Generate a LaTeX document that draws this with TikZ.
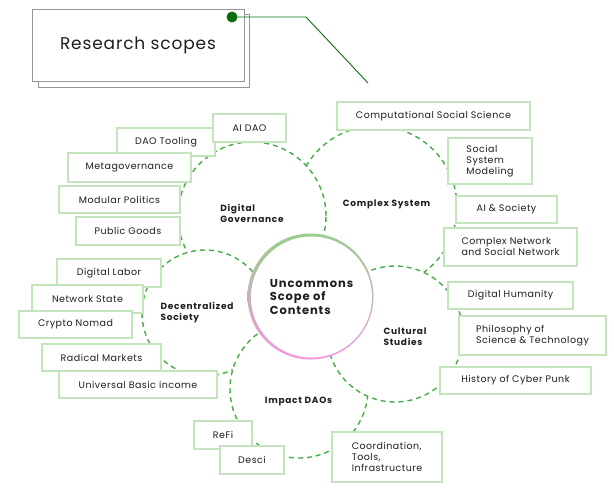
\documentclass[tikz,border=0pt]{standalone}
\usepackage{fontspec}
\setmainfont{Poppins}
\newfontfamily\tagfont[LetterSpace=5]{Poppins}
\newfontfamily\topicfont[LetterSpace=8]{Poppins}
\newfontfamily\titlefont[LetterSpace=5]{Poppins}
\definecolor{inkgray}{RGB}{30,30,30}
\definecolor{dashgreen}{RGB}{72,172,72}
\definecolor{boxgreen}{RGB}{196,228,190}
\definecolor{ringgreen}{RGB}{150,208,140}
\definecolor{ringmid}{RGB}{222,222,222}
\definecolor{ringpink}{RGB}{246,150,226}
\definecolor{pingreen}{RGB}{10,110,10}
\definecolor{sheetgray}{RGB}{150,150,150}
\tikzset{
  sheet/.style={draw=sheetgray,line width=0.9pt,fill=white,inner sep=0pt},
  pin dot/.style={circle,fill=pingreen,minimum size=11pt,inner sep=0pt},
  leader/.style={pingreen,line width=0.9pt},
  topic/.style={circle,draw=dashgreen,dash pattern=on 5pt off 4pt,line width=1.4pt,fill=white,inner sep=0pt},
  topic text/.style={font=\topicfont\bfseries\fontsize{9}{11}\selectfont,text=inkgray,align=left},
  hub/.style={circle,fill=white,minimum size=121pt,inner sep=0pt,font=\topicfont\bfseries\fontsize{11.5}{13.5}\selectfont,text=inkgray,align=left},
  tag/.style={draw=boxgreen,line width=1.3pt,fill=white,inner sep=0pt,font=\tagfont\fontsize{9.5}{11}\selectfont,text=inkgray,align=left}
}
\begin{document}
\begin{tikzpicture}[x=1pt,y=-1pt]
  \useasboundingbox (0,0) rectangle (614,499);
  \node[sheet,minimum width=211pt,minimum height=73pt] (back) at (143.5,50.5) {};
  \node[sheet,minimum width=212pt,minimum height=72pt,font=\titlefont\fontsize{17}{20}\selectfont,text=inkgray] (title) at (138,45) {Research scopes};
  \node[pin dot] (dot) at (232,17) {};
  \coordinate (bend) at (306,17);
  \coordinate (tip) at (368,83);
  \draw[leader] (dot) -- (bend) -- (tip);

  \node[topic,minimum size=162pt] (complex) at (376,207) {};
  \node[topic,minimum size=148pt] (govern) at (252,216) {};
  \node[topic,minimum size=126pt] (decent) at (205,313) {};
  \node[topic,minimum size=138pt] (impact) at (299,389) {};
  \node[topic,minimum size=136pt] (culture) at (395,334) {};
  \shade[top color=ringgreen,middle color=ringmid,bottom color=ringpink] (310.5,296.5) circle (63);
  \node[hub] (hub) at (311.5,297) {Uncommons\\Scope of\\Contents};

  \node[topic text] (governtext) at (252,213) {Digital\\Governance};
  \node[topic text] (complextext) at (386.5,204) {Complex System};
  \node[topic text] (decenttext) at (197,312.5) {Decentralized\\Society};
  \node[topic text] (culturetext) at (405,336.5) {Cultural\\Studies};
  \node[topic text] (impacttext) at (298.5,401) {Impact DAOs};

  \node[tag,minimum width=98pt,minimum height=28pt] (tooling) at (166,142) {DAO Tooling};
  \node[tag,minimum width=73pt,minimum height=28pt] (aidao) at (249.5,128) {AI DAO};
  \node[tag,minimum width=123pt,minimum height=29pt] (metagov) at (129.5,167.5) {Metagovernance};
  \node[tag,minimum width=121pt,minimum height=27pt] (modular) at (119.5,199.5) {Modular Politics};
  \node[tag,minimum width=104pt,minimum height=28pt] (goods) at (128,231) {Public Goods};

  \node[tag,minimum width=193pt,minimum height=28pt] (compsoc) at (433.5,116) {Computational Social Science};
  \node[tag,minimum width=84pt,minimum height=46pt] (modeling) at (490,161) {Social\\System\\Modeling};
  \node[tag,minimum width=101pt,minimum height=27pt] (aisoc) at (506.5,209.5) {AI \& Society};
  \node[tag,minimum width=133pt,minimum height=38pt] (network) at (510.5,247) {Complex Network\\and Social Network};

  \node[tag,minimum width=104pt,minimum height=28pt] (labor) at (109,273) {Digital Labor};
  \node[tag,minimum width=111pt,minimum height=28pt] (state) at (87.5,299) {Network State};
  \node[tag,minimum width=113pt,minimum height=27pt] (nomad) at (75.5,324.5) {Crypto Nomad};
  \node[tag,minimum width=119pt,minimum height=27pt] (radical) at (101.5,357.5) {Radical Markets};
  \node[tag,minimum width=158pt,minimum height=27pt] (income) at (138,384.5) {Universal Basic income};

  \node[tag,minimum width=125pt,minimum height=27pt] (humanity) at (510.5,295.5) {Digital Humanity};
  \node[tag,minimum width=147pt,minimum height=39pt] (philo) at (532.5,335.5) {Philosophy of\\Science \& Technology};
  \node[tag,minimum width=151pt,minimum height=27pt] (punk) at (515.5,380.5) {History of Cyber Punk};

  \node[tag,minimum width=58pt,minimum height=28pt] (refi) at (223,435) {ReFi};
  \node[tag,minimum width=64pt,minimum height=28pt] (desci) at (252,460) {Desci};
  \node[tag,minimum width=110pt,minimum height=50pt] (coord) at (387,457) {Coordination,\\Tools,\\Infrastructure};
\end{tikzpicture}
\end{document}
